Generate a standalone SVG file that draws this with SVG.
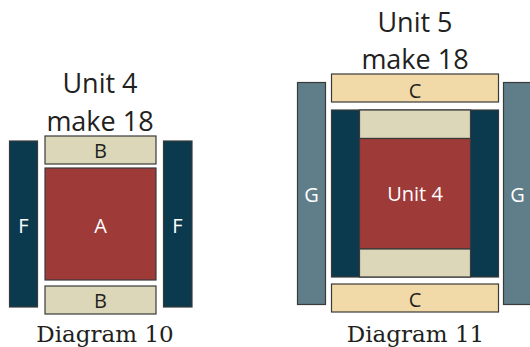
<svg xmlns="http://www.w3.org/2000/svg" width="530" height="347" viewBox="0 0 530 347">
<style>
.p{stroke:#3a3a3a;stroke-width:1.2}
.F{fill:#0b3a4f}
.A{fill:#9e3a38}
.B{fill:#dcd7b9}
.C{fill:#f2d9a8}
.G{fill:#5f7e89}
.t{font-family:"Open Sans","Liberation Sans",sans-serif;text-anchor:middle}
.h{font-size:27px;fill:#231f20}
.l{font-size:20px;fill:#231f20}
.w{font-size:20px;fill:#ffffff}
.cap{font-family:"DejaVu Serif","Liberation Serif",serif;font-size:23px;fill:#231f20;text-anchor:middle}
</style>
<rect width="530" height="347" fill="#ffffff"/>
<g id="diagram10">
  <g id="title10"><text class="t h" x="100" y="93">Unit 4</text><text class="t h" x="100" y="131">make 18</text></g>
  <g id="F-left"><rect class="p F" x="9.5" y="141" width="28" height="166"/><text class="t w" x="23.5" y="233">F</text></g>
  <g id="B-top"><rect class="p B" x="45" y="136" width="111" height="28"/><text class="t l" x="100.5" y="157.5">B</text></g>
  <g id="A"><rect class="p A" x="45" y="168" width="111" height="112"/><text class="t w" x="100.5" y="233">A</text></g>
  <g id="B-bottom"><rect class="p B" x="45" y="286" width="111" height="28"/><text class="t l" x="100.5" y="308">B</text></g>
  <g id="F-right"><rect class="p F" x="163.5" y="141" width="28.5" height="166"/><text class="t w" x="177.5" y="233">F</text></g>
  <text class="cap" x="105" y="341.5">Diagram 10</text>
</g>
<g id="diagram11">
  <g id="title11"><text class="t h" x="415" y="31.5">Unit 5</text><text class="t h" x="415" y="69">make 18</text></g>
  <g id="G-left"><rect class="p G" x="297.5" y="82.5" width="28" height="222"/><text class="t w" x="311.5" y="201.5">G</text></g>
  <g id="C-top"><rect class="p C" x="331.5" y="74" width="167" height="28"/><text class="t l" x="415" y="98">C</text></g>
  <g id="unit4">
    <rect class="p F" x="331.5" y="110" width="167" height="167"/>
    <rect class="p B" x="359.5" y="110" width="111" height="28.5"/>
    <rect class="p A" x="359.5" y="138.5" width="111" height="110.5"/>
    <rect class="p B" x="359.5" y="249" width="111" height="28"/>
    <text class="t w" x="415" y="201">Unit 4</text>
  </g>
  <g id="C-bottom"><rect class="p C" x="331.5" y="284" width="167" height="28"/><text class="t l" x="415" y="306.5">C</text></g>
  <g id="G-right"><rect class="p G" x="503.5" y="82.5" width="28" height="222"/><text class="t w" x="517.5" y="201.5">G</text></g>
  <text class="cap" x="415.5" y="341.5">Diagram 11</text>
</g>
<g id="connectors"/>
</svg>
